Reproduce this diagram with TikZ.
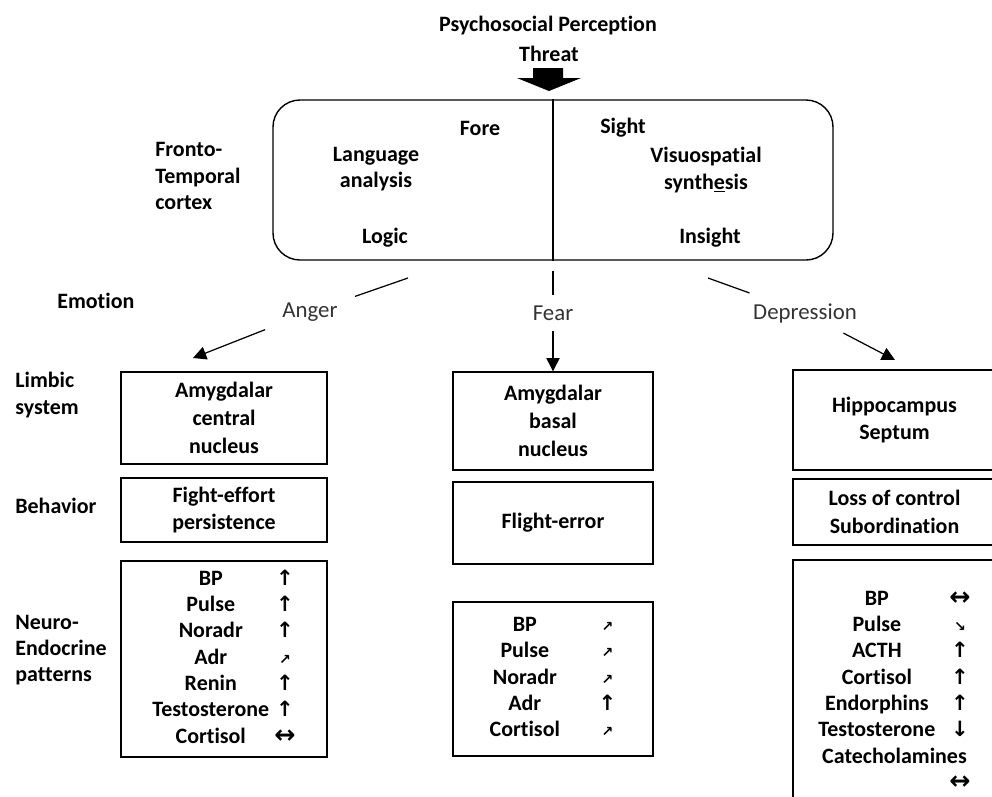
\documentclass[tikz,border=0pt]{standalone}
\usepackage{fontspec}
\setmainfont{Carlito}[Ligatures=NoCommon]
\newfontfamily\arrowfont{DejaVu Sans}
\usetikzlibrary{arrows.meta,positioning}

\newlength\pxu
\setlength\pxu{0.02cm}
\newcommand\arUp{{\arrowfont\large\bfseries ↑}}
\newcommand\arDn{{\arrowfont\large\bfseries ↓}}
\newcommand\arLR{{\arrowfont\Large ↔}}
\newcommand\arNE{{\arrowfont\footnotesize\bfseries ↗}}
\newcommand\arSE{{\arrowfont\footnotesize\bfseries ↘}}

\begin{document}
\begin{tikzpicture}[x=0.02cm,y=-0.02cm,
  font=\fontsize{12.5}{15}\selectfont\bfseries,
  box/.style={draw,line width=0.8pt,inner sep=0pt,align=center},
  side/.style={anchor=west,align=left,inner sep=0pt},
  emo/.style={font=\fontsize{13}{15}\selectfont\mdseries,text=black!80,inner xsep=17\pxu,inner ysep=10\pxu},
  link/.style={line width=0.7pt},
  tip/.style={line width=0.7pt,-{Triangle[length=7.5pt,width=7.5pt]}}]
  \useasboundingbox (0,0) rectangle (992,796);
  \clip (0,0) rectangle (992,796);
  % threat
  \node (psy) at (548,26) {Psychosocial Perception};
  \node (threat) at (549,54) {Threat};
  \fill (533,68) -- (563,68) -- (563,78) -- (581,78) -- (549,91) -- (517,78) -- (533,78) -- cycle;
  % cortex
  \node[box,rounded corners=27\pxu,minimum width=560\pxu,minimum height=160\pxu] (cortex) at (553,180) {};
  \draw[line width=0.6pt] (cortex.north) -- (cortex.south);
  \node (fore) at (480,128) {Fore};
  \node[align=center] (lang) at (376,169) {Language\\analysis};
  \node (logic) at (385,238) {Logic};
  \node (sight) at (623,128) {Sight};
  \node[align=center] (visuo) at (706,170) {Visuospatial\\synth\underline{e}sis};
  \node (insight) at (710,238) {Insight};
  % row labels
  \node[side] (fronto) at (155,176) {Fronto-\\Temporal\\cortex};
  \node[side] (emotion) at (57,301) {Emotion};
  \node[side] (limbic) at (15,395) {Limbic\\system};
  \node[side] (behav) at (15,506) {Behavior};
  \node[side] (neuro) at (15,650) {Neuro-\\Endocrine\\patterns};
  % emotions
  \node[emo] (anger) at (310,312) {Anger};
  \node[emo] (fear) at (553,313) {Fear};
  \node[emo] (depr) at (805,313) {Depression};
  \coordinate (angS) at (408,278);
  \coordinate (angE) at (193,358);
  \coordinate (depS) at (708,278);
  \coordinate (depE) at (895,360);
  % anger column
  \node[box,minimum width=206\pxu,minimum height=92\pxu,font=\fontsize{12.5}{16}\selectfont\bfseries] (lamy) at (224,418) {Amygdalar\\central\\nucleus};
  \node[box,minimum width=206\pxu,minimum height=64\pxu] (lbeh) at (224,510) {Fight-effort\\persistence};
  \node[box,minimum width=206\pxu,minimum height=196\pxu] (lpat) at (224,659)
    {\begin{tabular}{@{}c@{\hspace{3pt}}c@{}}
      BP&\arUp\\ Pulse&\arUp\\ Noradr&\arUp\\ Adr&\arNE\\
      Renin&\arUp\\ Testosterone&\arUp\\ Cortisol&\arLR
    \end{tabular}};
  % fear column
  \node[box,minimum width=200\pxu,minimum height=98\pxu,font=\fontsize{12.5}{16}\selectfont\bfseries] (mamy) at (553,421) {Amygdalar\\basal\\nucleus};
  \node[box,minimum width=200\pxu,minimum height=82\pxu] (mbeh) at (553,523) {Flight-error};
  \node[box,minimum width=200\pxu,minimum height=154\pxu] (mpat) at (553,679)
    {\begin{tabular}{@{}c@{\hspace{22pt}}c@{}}
      BP&\arNE\\ Pulse&\arNE\\ Noradr&\arNE\\ Adr&\arUp\\ Cortisol&\arNE
    \end{tabular}};
  % depression column
  \node[box,minimum width=203\pxu,minimum height=100\pxu] (ramy) at (894.5,420) {Hippocampus\\Septum};
  \node[box,minimum width=203\pxu,minimum height=66\pxu,font=\fontsize{12.5}{16}\selectfont\bfseries] (rbeh) at (894.5,512) {Loss of control\\Subordination};
  \node[box,minimum width=203\pxu,minimum height=264\pxu] (rpat) at (894.5,692)
    {\begin{tabular}{@{}c@{\hspace{8pt}}c@{}}
      BP&\arLR\\ Pulse&\arSE\\ ACTH&\arUp\\ Cortisol&\arUp\\
      Endorphins&\arUp\\ Testosterone&\arDn\\
      \multicolumn{2}{@{}c@{}}{Catecholamines}\\ &\arLR
    \end{tabular}};
  % connectors
  \draw[link] (angS) -- (anger);
  \draw[tip] (anger) -- (angE);
  \draw[link,shorten <=10\pxu] (cortex.south) -- (fear);
  \draw[tip] (fear) -- (mamy);
  \draw[link] (depS) -- (depr);
  \draw[tip] (depr) -- (depE);
\end{tikzpicture}
\end{document}
